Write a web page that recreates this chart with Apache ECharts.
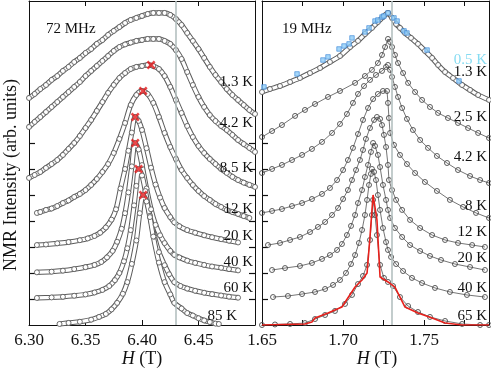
<!DOCTYPE html>
<html><head><meta charset="utf-8">
<script src="https://cdn.jsdelivr.net/npm/echarts@6/dist/echarts.min.js"></script>
<style>html,body{margin:0;padding:0;background:#fff}#c{width:491px;height:370px}</style>
</head><body><div id="c"></div>
<script>
// ---------- DATA (H in tesla, normalized intensity: peak = 1) ----------
const left_1p3K = [[6.300,0.346],[6.305,0.377],[6.310,0.415],[6.315,0.446],[6.320,0.485],[6.325,0.515],[6.330,0.554],[6.335,0.585],[6.340,0.623],[6.345,0.654],[6.350,0.692],[6.355,0.723],[6.360,0.762],[6.365,0.792],[6.370,0.831],[6.375,0.862],[6.380,0.892],[6.385,0.923],[6.390,0.946],[6.395,0.962],[6.400,0.977],[6.405,0.992],[6.410,1.000],[6.415,1.000],[6.420,1.000],[6.425,0.985],[6.430,0.954],[6.435,0.908],[6.440,0.846],[6.445,0.785],[6.450,0.723],[6.455,0.654],[6.460,0.585],[6.465,0.523],[6.470,0.469],[6.475,0.415],[6.480,0.369],[6.485,0.331],[6.490,0.292],[6.495,0.254],[6.500,0.223]];
const left_4p2K = [[6.300,0.323],[6.305,0.362],[6.310,0.400],[6.315,0.438],[6.320,0.477],[6.325,0.515],[6.330,0.554],[6.335,0.592],[6.340,0.631],[6.345,0.669],[6.350,0.715],[6.355,0.754],[6.360,0.792],[6.365,0.831],[6.370,0.869],[6.375,0.908],[6.380,0.938],[6.385,0.958],[6.390,0.972],[6.395,0.985],[6.400,0.992],[6.405,1.000],[6.410,1.000],[6.415,1.000],[6.420,0.985],[6.425,0.962],[6.430,0.915],[6.435,0.846],[6.440,0.746],[6.445,0.646],[6.450,0.554],[6.455,0.477],[6.460,0.415],[6.465,0.369],[6.470,0.331],[6.475,0.300],[6.480,0.262],[6.485,0.223],[6.490,0.192],[6.495,0.162],[6.500,0.131]];
const left_8p5K = [[6.300,0.131],[6.305,0.154],[6.310,0.177],[6.315,0.208],[6.320,0.238],[6.325,0.269],[6.330,0.308],[6.335,0.354],[6.340,0.400],[6.345,0.454],[6.350,0.515],[6.355,0.577],[6.360,0.646],[6.365,0.715],[6.370,0.785],[6.375,0.846],[6.380,0.900],[6.385,0.938],[6.390,0.969],[6.395,0.985],[6.400,0.992],[6.405,1.000],[6.410,0.992],[6.415,0.969],[6.420,0.915],[6.425,0.831],[6.430,0.731],[6.435,0.631],[6.440,0.531],[6.445,0.446],[6.450,0.377],[6.455,0.323],[6.460,0.277],[6.465,0.238],[6.470,0.200],[6.475,0.170],[6.480,0.140],[6.485,0.115],[6.490,0.095],[6.495,0.078],[6.500,0.062]];
const left_12K = [[6.307,0.062],[6.310,0.069],[6.315,0.085],[6.320,0.096],[6.325,0.115],[6.330,0.138],[6.335,0.158],[6.340,0.185],[6.345,0.208],[6.350,0.238],[6.355,0.277],[6.360,0.323],[6.365,0.377],[6.370,0.438],[6.375,0.523],[6.380,0.631],[6.385,0.754],[6.390,0.892],[6.395,0.969],[6.400,1.000],[6.405,0.977],[6.410,0.908],[6.415,0.800],[6.420,0.677],[6.425,0.569],[6.430,0.477],[6.435,0.392],[6.440,0.331],[6.445,0.277],[6.450,0.231],[6.455,0.192],[6.460,0.162],[6.465,0.131],[6.470,0.108],[6.475,0.085],[6.480,0.069],[6.485,0.054],[6.490,0.038],[6.495,0.023]];
const left_20K = [[6.307,0.015],[6.315,0.019],[6.325,0.028],[6.335,0.038],[6.345,0.052],[6.352,0.066],[6.358,0.085],[6.363,0.110],[6.368,0.150],[6.373,0.210],[6.377,0.290],[6.381,0.450],[6.385,0.600],[6.388,0.740],[6.391,0.880],[6.394,1.000],[6.397,0.970],[6.400,0.900],[6.404,0.760],[6.408,0.610],[6.412,0.480],[6.416,0.380],[6.420,0.300],[6.425,0.230],[6.4286,0.190],[6.433,0.160],[6.440,0.130],[6.447,0.110],[6.455,0.090],[6.462,0.075],[6.470,0.060],[6.477,0.048],[6.485,0.035]];
const left_40K = [[6.307,0.005],[6.320,0.010],[6.330,0.018],[6.340,0.030],[6.350,0.045],[6.358,0.062],[6.364,0.085],[6.369,0.120],[6.374,0.170],[6.378,0.240],[6.382,0.340],[6.385,0.460],[6.388,0.620],[6.391,0.820],[6.394,1.000],[6.397,0.950],[6.400,0.830],[6.404,0.650],[6.408,0.490],[6.412,0.370],[6.416,0.290],[6.420,0.230],[6.425,0.170],[6.4286,0.140],[6.433,0.120],[6.440,0.095],[6.447,0.078],[6.455,0.062],[6.462,0.050],[6.470,0.040],[6.477,0.030],[6.485,0.020]];
const left_60K = [[6.307,0.008],[6.320,0.012],[6.330,0.017],[6.340,0.025],[6.350,0.035],[6.358,0.050],[6.365,0.070],[6.371,0.100],[6.376,0.145],[6.380,0.200],[6.384,0.290],[6.387,0.390],[6.390,0.530],[6.393,0.720],[6.395,0.870],[6.397,1.000],[6.400,0.950],[6.403,0.830],[6.407,0.640],[6.411,0.480],[6.415,0.360],[6.420,0.260],[6.424,0.190],[6.4286,0.130],[6.434,0.100],[6.440,0.080],[6.447,0.063],[6.455,0.048],[6.462,0.037],[6.470,0.027],[6.477,0.018],[6.485,0.010]];
const left_85K = [[6.327,0.008],[6.335,0.016],[6.345,0.025],[6.355,0.041],[6.362,0.062],[6.368,0.085],[6.373,0.120],[6.378,0.170],[6.383,0.240],[6.387,0.330],[6.391,0.470],[6.395,0.650],[6.398,0.860],[6.401,1.000],[6.404,0.950],[6.407,0.830],[6.410,0.680],[6.415,0.480],[6.420,0.330],[6.425,0.235],[6.4286,0.170],[6.435,0.127],[6.440,0.092],[6.445,0.073],[6.450,0.052],[6.455,0.035],[6.460,0.023],[6.465,0.011],[6.468,0.008]];
const left_curves = [left_1p3K, left_4p2K, left_8p5K, left_12K, left_20K, left_40K, left_60K, left_85K];
const left_offsets = [7, 6, 5, 4, 3, 2, 1, 0];
const left_labels = ['1.3 K', '4.2 K', '8.5 K', '12 K', '20 K', '40 K', '60 K', '85 K'];
const left_peakH = [6.408, 6.401, 6.394, 6.394, 6.397, 6.401];   // red crosses
const left_peakOffsets = [5, 4, 3, 2, 1, 0];

const right_0p5K = [[1.6512,0.431],[1.6716,0.531],[1.6876,0.638],[1.6907,0.662],[1.6975,0.723],[1.7006,0.746],[1.7037,0.762],[1.7055,0.808],[1.7135,0.854],[1.7160,0.885],[1.7197,0.938],[1.7215,0.946],[1.7240,0.969],[1.7252,0.977],[1.7277,1.000],[1.7314,0.962],[1.7333,0.938],[1.7376,0.862],[1.7394,0.846],[1.7518,0.715],[1.7715,0.477]];
const right_1p3K = [[1.6500,0.392],[1.6549,0.415],[1.6611,0.438],[1.6673,0.469],[1.6734,0.500],[1.6796,0.538],[1.6858,0.577],[1.6919,0.623],[1.6981,0.669],[1.7043,0.738],[1.7092,0.785],[1.7135,0.838],[1.7178,0.885],[1.7215,0.931],[1.7246,0.969],[1.7277,1.000],[1.7302,0.962],[1.7327,0.915],[1.7351,0.885],[1.7382,0.846],[1.7419,0.808],[1.7462,0.762],[1.7505,0.708],[1.7549,0.654],[1.7586,0.600],[1.7629,0.546],[1.7678,0.500],[1.7734,0.446],[1.7783,0.408],[1.7833,0.369],[1.7900,0.331]];
const right_2p5K = [[1.6500,0.246],[1.6562,0.292],[1.6623,0.338],[1.6704,0.408],[1.6765,0.454],[1.6827,0.500],[1.6907,0.554],[1.6981,0.600],[1.7074,0.662],[1.7135,0.715],[1.7178,0.762],[1.7215,0.815],[1.7240,0.877],[1.7259,0.938],[1.7277,1.000],[1.7290,0.977],[1.7302,0.938],[1.7320,0.877],[1.7339,0.815],[1.7370,0.738],[1.7401,0.662],[1.7444,0.592],[1.7487,0.531],[1.7536,0.477],[1.7586,0.431],[1.7647,0.392],[1.7709,0.354],[1.7771,0.315],[1.7833,0.277],[1.7900,0.238]];
const right_4p2K = [[1.6500,0.169],[1.6562,0.200],[1.6623,0.231],[1.6685,0.269],[1.6747,0.308],[1.6808,0.354],[1.6870,0.408],[1.6932,0.477],[1.6981,0.546],[1.7024,0.623],[1.7061,0.708],[1.7092,0.777],[1.7129,0.838],[1.7166,0.885],[1.7203,0.923],[1.7240,0.954],[1.7265,0.985],[1.7277,1.000],[1.7290,0.962],[1.7302,0.908],[1.7320,0.831],[1.7339,0.754],[1.7364,0.669],[1.7394,0.585],[1.7431,0.500],[1.7475,0.423],[1.7524,0.362],[1.7579,0.300],[1.7641,0.246],[1.7709,0.192],[1.7783,0.146],[1.7845,0.115],[1.7900,0.092]];
const right_8K = [[1.6500,0.062],[1.6562,0.077],[1.6623,0.092],[1.6685,0.115],[1.6747,0.138],[1.6808,0.169],[1.6870,0.208],[1.6919,0.254],[1.6963,0.315],[1.7000,0.392],[1.7030,0.469],[1.7061,0.562],[1.7092,0.669],[1.7123,0.777],[1.7154,0.869],[1.7185,0.938],[1.7215,0.977],[1.7246,1.000],[1.7271,1.000],[1.7277,0.908],[1.7283,0.792],[1.7290,0.677],[1.7314,0.585],[1.7351,0.508],[1.7394,0.438],[1.7444,0.369],[1.7505,0.300],[1.7579,0.231],[1.7659,0.162],[1.7740,0.108],[1.7820,0.062],[1.7900,0.023]];
const right_12K = [[1.6537,0.015],[1.6611,0.031],[1.6673,0.054],[1.6734,0.077],[1.6796,0.115],[1.6845,0.154],[1.6889,0.192],[1.6932,0.246],[1.6969,0.300],[1.7000,0.369],[1.7030,0.438],[1.7055,0.515],[1.7080,0.592],[1.7104,0.669],[1.7123,0.746],[1.7141,0.831],[1.7166,0.915],[1.7191,0.977],[1.7209,1.000],[1.7228,0.985],[1.7240,0.938],[1.7252,0.862],[1.7265,0.769],[1.7277,0.631],[1.7283,0.515],[1.7302,0.438],[1.7327,0.362],[1.7364,0.285],[1.7413,0.208],[1.7475,0.146],[1.7549,0.092],[1.7629,0.054],[1.7709,0.031],[1.7796,0.015],[1.7875,0.000]];
const right_20K = [[1.6562,0.023],[1.6642,0.038],[1.6734,0.054],[1.6808,0.077],[1.6870,0.108],[1.6919,0.138],[1.6963,0.177],[1.6993,0.223],[1.7024,0.292],[1.7049,0.362],[1.7074,0.446],[1.7092,0.538],[1.7117,0.638],[1.7135,0.738],[1.7154,0.831],[1.7172,0.931],[1.7185,1.000],[1.7197,0.977],[1.7215,0.908],[1.7228,0.815],[1.7246,0.677],[1.7265,0.562],[1.7277,0.485],[1.7290,0.423],[1.7320,0.346],[1.7364,0.277],[1.7413,0.215],[1.7475,0.169],[1.7536,0.131],[1.7604,0.100],[1.7690,0.069],[1.7783,0.046],[1.7875,0.023]];
const right_40K = [[1.6568,0.015],[1.6660,0.023],[1.6747,0.038],[1.6827,0.054],[1.6889,0.077],[1.6938,0.108],[1.6981,0.146],[1.7018,0.200],[1.7049,0.269],[1.7074,0.338],[1.7098,0.431],[1.7117,0.531],[1.7135,0.646],[1.7148,0.762],[1.7160,0.877],[1.7172,0.962],[1.7178,1.000],[1.7191,0.977],[1.7203,0.915],[1.7215,0.800],[1.7228,0.685],[1.7246,0.546],[1.7265,0.438],[1.7277,0.377],[1.7296,0.323],[1.7327,0.269],[1.7370,0.215],[1.7425,0.162],[1.7487,0.123],[1.7567,0.085],[1.7659,0.054],[1.7764,0.031],[1.7875,0.015]];
const right_65K = [[1.6500,0.000],[1.6580,0.004],[1.6673,0.008],[1.6765,0.015],[1.6827,0.046],[1.6889,0.077],[1.6950,0.108],[1.7012,0.162],[1.7055,0.231],[1.7092,0.315],[1.7123,0.377],[1.7148,0.462],[1.7166,0.654],[1.7178,0.846],[1.7185,0.962],[1.7197,0.846],[1.7209,0.692],[1.7228,0.462],[1.7252,0.362],[1.7277,0.331],[1.7308,0.300],[1.7351,0.215],[1.7401,0.146],[1.7462,0.100],[1.7536,0.062],[1.7629,0.031],[1.7734,0.008],[1.7845,0.000],[1.7900,0.000]];
const right_65K_line = [[1.6500,0.000],[1.6765,0.008],[1.6808,0.023],[1.6827,0.054],[1.6907,0.092],[1.6993,0.138],[1.7074,0.292],[1.7117,0.346],[1.7148,0.400],[1.7166,0.677],[1.7185,1.000],[1.7209,0.808],[1.7228,0.369],[1.7277,0.331],[1.7320,0.292],[1.7382,0.138],[1.7462,0.092],[1.7549,0.054],[1.7629,0.015],[1.7734,0.000],[1.7900,0.000]];
const right_curves = [right_1p3K, right_2p5K, right_4p2K, right_8K, right_12K, right_20K, right_40K, right_65K];
const right_offsets = [7, 6, 5, 4, 3, 2, 1, 0];
const right_labels = ['1.3 K', '2.5 K', '4.2 K', '8 K', '12 K', '20 K', '40 K', '65 K'];

const PEAK_SCALE = 5;        // peak height in units of the stacking offset
const Y_MAX = 12.46;
const GREY_H_LEFT = 6.4286;
const GREY_H_RIGHT = 1.7277;
const X_LEFT = {min: 6.30, max: 6.50, interval: 0.05};
const X_RIGHT = {min: 1.65, max: 1.79, interval: 0.025};
const Y_TICKS = [1, 2, 3, 4, 5, 6, 7];

// ---------- CHART ----------
const SERIF = '"Liberation Serif","DejaVu Serif",serif';
const chart = echarts.init(document.getElementById('c'), null, {renderer: 'canvas'});
const stack = (pts, off) => pts.map(p => [p[0], off + PEAK_SCALE * p[1]]);
const DARK = '#5c5c5c';
const series = [];
// dense chains of open circles -> outlined tube plus ring markers
function chain(pts, off, xi, yi, smooth) {
  const d = stack(pts, off);
  series.push({type: 'line', xAxisIndex: xi, yAxisIndex: yi, smooth: smooth, showSymbol: false, symbol: 'none',
    lineStyle: {color: DARK, width: 5.2}, data: d, z: 3, emphasis: {disabled: true}});
  series.push({type: 'line', xAxisIndex: xi, yAxisIndex: yi, smooth: smooth, symbol: 'circle', symbolSize: 5,
    itemStyle: {color: '#fff', borderColor: DARK, borderWidth: 0.9},
    lineStyle: {color: '#fff', width: 3.2}, data: d, z: 3, emphasis: {disabled: true}});
}
left_curves.forEach((c, i) => chain(c, left_offsets[i], 0, 0, 0.3));
series.push({
  type: 'scatter', xAxisIndex: 0, yAxisIndex: 0, z: 5,
  symbol: 'path://M0,2L2,0L5,3L8,0L10,2L7,5L10,8L8,10L5,7L2,10L0,8L3,5Z', symbolSize: 9,
  itemStyle: {color: '#e3191c'},
  data: left_peakH.map((h, i) => [h, left_peakOffsets[i] + PEAK_SCALE])
});
series.push({type: 'line', xAxisIndex: 0, yAxisIndex: 0, data: [], z: 2, markLine: {
  silent: true, symbol: ['none', 'none'], label: {show: false},
  lineStyle: {color: '#b4c0c0', width: 1.6, type: 'solid'}, data: [{xAxis: GREY_H_LEFT}]}});
// right panel: 1.3 K as a dense chain, others open circles joined by a thin line
right_curves.forEach((c, i) => {
  if (i === 0) { chain(c, right_offsets[i], 2, 2, 0.2); return; }
  series.push({
    type: 'line', xAxisIndex: 2, yAxisIndex: 2, smooth: false, symbol: 'circle', symbolSize: 5, showSymbol: true,
    itemStyle: {color: 'rgba(255,255,255,0)', borderColor: '#4a4a4a', borderWidth: 0.9},
    lineStyle: {color: '#3a3a3a', width: 0.7}, emphasis: {disabled: true}, z: 3,
    data: stack(c, right_offsets[i])
  });
});
series.push({
  type: 'line', xAxisIndex: 2, yAxisIndex: 2, showSymbol: false, symbol: 'none', z: 6,
  lineStyle: {color: '#e8211c', width: 1.6}, data: stack(right_65K_line, 0)
});
series.push({
  type: 'scatter', xAxisIndex: 2, yAxisIndex: 2, z: 7, symbol: 'rect', symbolSize: 4.5,
  itemStyle: {color: '#8fcdf7', borderColor: '#3a86d8', borderWidth: 0.8},
  data: stack(right_0p5K, 7)
});
series.push({type: 'line', xAxisIndex: 2, yAxisIndex: 2, data: [], z: 2, markLine: {
  silent: true, symbol: ['none', 'none'], label: {show: false},
  lineStyle: {color: '#b4c0c0', width: 1.6, type: 'solid'}, data: [{xAxis: GREY_H_RIGHT}]}});

const axLine = {show: true, onZero: false, lineStyle: {color: '#111', width: 1}};
const fmt2 = v => { const k = Math.round(v * 100); return k % 5 === 0 ? v.toFixed(2) : ''; };
function xAx(grid, pos, r, labels) {
  return Object.assign({type: 'value', gridIndex: grid, position: pos, axisLine: axLine,
    axisTick: {show: true, inside: true, length: 5, lineStyle: {color: '#111'}},
    splitLine: {show: false},
    axisLabel: {show: labels, formatter: fmt2, fontFamily: SERIF, fontSize: 17, color: '#111', margin: 7,
      showMinLabel: true, showMaxLabel: false}}, r);
}
function yAx(grid, pos, ticks) {
  return {type: 'value', gridIndex: grid, position: pos, min: 0, max: Y_MAX, interval: 1,
    axisLine: axLine, splitLine: {show: false}, axisLabel: {show: false},
    axisTick: {show: ticks, inside: true, length: 6, customValues: Y_TICKS, lineStyle: {color: '#111', width: 1.2}}};
}
const txt = (t, x, y, size, align, color, extra) => Object.assign({type: 'text', x: x, y: y, z: 20,
  style: {text: t, font: size + 'px ' + SERIF, fill: color || '#111', textAlign: align, textVerticalAlign: 'middle'}}, extra || {});
const leftLabelY = [82, 123, 168, 209, 236, 262, 288, 316];
const leftLabelX = [253, 253, 253, 253, 253, 253, 253, 237];
const rightLabelY = [72, 117, 157, 206, 232, 258, 288, 316];
const graphics = [];
left_labels.forEach((t, i) => graphics.push(txt(t, leftLabelX[i], leftLabelY[i], 15, 'right')));
right_labels.forEach((t, i) => graphics.push(txt(t, 487, rightLabelY[i], 15, 'right')));
graphics.push(txt('0.5 K', 487, 60, 15, 'right', '#86dcf2'));
graphics.push(txt('72 MHz', 46, 29, 15, 'left'));
graphics.push(txt('19 MHz', 282, 29, 15, 'left'));
graphics.push(txt('NMR Intensity (arb. units)', 11, 175, 18, 'center', '#111', {rotation: Math.PI / 2}));
const hName = (x) => ({type: 'text', x: x, y: 359, z: 20, style: {text: '{i|H} (T)', font: '18px ' + SERIF, fill: '#111',
  textAlign: 'center', textVerticalAlign: 'middle', rich: {i: {fontStyle: 'italic', fontFamily: SERIF, fontSize: 18}}}});
graphics.push(hName(142));
graphics.push(hName(377));

chart.setOption({
  animation: false,
  backgroundColor: '#fff',
  grid: [{left: 29, right: 236, top: 1, bottom: 45}, {left: 262, right: 2, top: 1, bottom: 45}],
  xAxis: [xAx(0, 'bottom', X_LEFT, true), xAx(0, 'top', X_LEFT, false),
          xAx(1, 'bottom', X_RIGHT, true), xAx(1, 'top', X_RIGHT, false)],
  yAxis: [yAx(0, 'left', true), yAx(0, 'right', true), yAx(1, 'left', true), yAx(1, 'right', false)],
  series: series,
  graphic: graphics
});
</script></body></html>
